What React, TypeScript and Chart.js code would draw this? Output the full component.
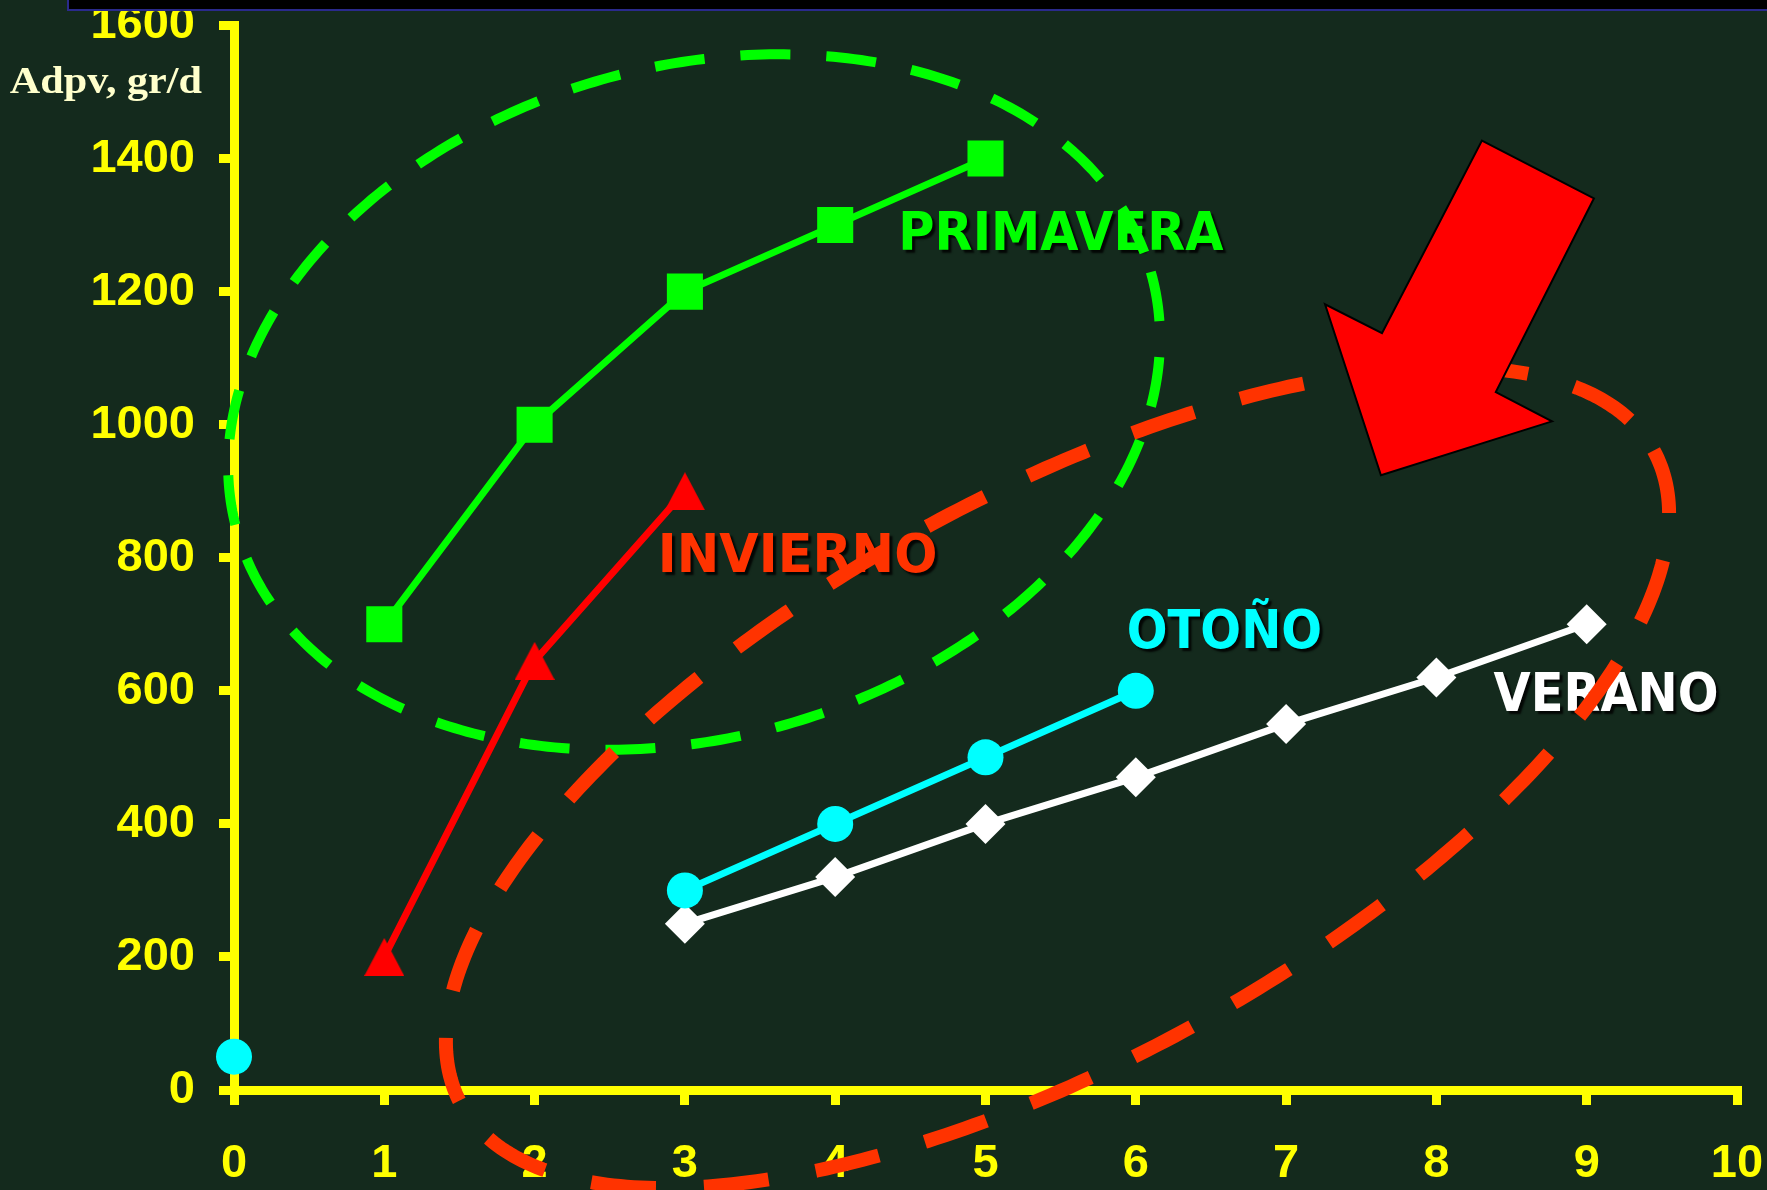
import React, { useEffect, useRef } from "react";
import { Chart, registerables } from "chart.js";

Chart.register(...registerables);

// ---------- data ----------
const X_MIN = 0;
const X_MAX = 10;
const Y_MIN = 0;
const Y_MAX = 1600;
const Y_STEP = 200;

const PRIMAVERA_X = [1, 2, 3, 4, 5];
const PRIMAVERA_Y = [700, 1000, 1200, 1300, 1400];

const INVIERNO_X = [1, 2, 3];
const INVIERNO_Y = [200, 645, 900];

const OTONO_X = [0, 1, 2, 3, 4, 5, 6];
const OTONO_Y: (number | null)[] = [50, null, null, 300, 400, 500, 600];

const VERANO_X = [3, 4, 5, 6, 7, 8, 9];
const VERANO_Y = [250, 320, 400, 470, 550, 620, 700];

const SERIES_NAMES = ["PRIMAVERA", "INVIERNO", "OTOÑO", "VERANO"];
const Y_TITLE = "Adpv, gr/d";

// ---------- annotations (in data units) ----------
const LABEL_ANCHORS = [
  { x: 4.42, y: 1262 },
  { x: 2.82, y: 779 },
  { x: 5.94, y: 664 },
  { x: 8.38, y: 570 },
];
const LABEL_STRETCH_X = [1.03, 1.06, 1.0, 1.0];
const Y_TITLE_VALUE = 1498;

// ellipse = center + u*cos(t) + v*sin(t)
const GREEN_ELLIPSE = { cx: 3.061, cy: 1034, ux: 3.039, uy: 195.5, vx: 0.612, vy: -484.8 };
const RED_ELLIPSE = { cx: 5.479, cy: 469.5, ux: 3.967, uy: 491.6, vx: 0.906, vy: -372.7 };

const ARROW_X = [8.303, 9.048, 8.395, 8.769, 7.631, 7.259, 7.638];
const ARROW_Y = [1427, 1340, 1049, 1005, 924, 1181, 1137.5];

// ---------- styles ----------
const BG = "#142a1d";
const YELLOW = "#ffff00";
const C_GREEN = "#00ff00";
const C_RED = "#ff0000";
const C_CYAN = "#00ffff";
const C_WHITE = "#ffffff";
const LABEL_COLORS = [C_GREEN, "#ff3300", C_CYAN, C_WHITE];

const toPoints = (xs: number[], ys: (number | null)[]) =>
  xs.map((x, i) => ({ x, y: ys[i] }));

function makeTriangle(color: string) {
  const c = document.createElement("canvas");
  c.width = 40;
  c.height = 38;
  const g = c.getContext("2d")!;
  g.fillStyle = color;
  g.beginPath();
  g.moveTo(20, 0);
  g.lineTo(40, 38);
  g.lineTo(0, 38);
  g.closePath();
  g.fill();
  return c;
}

const annotationPlugin = {
  id: "slideAnnotations",
  afterDraw(chart: any) {
    const { ctx, chartArea } = chart;
    const xs = chart.scales.x;
    const ys = chart.scales.y;
    const px = (v: number) => xs.getPixelForValue(v);
    const py = (v: number) => ys.getPixelForValue(v);

    // y axis title (horizontal, serif)
    ctx.save();
    ctx.font = 'bold 37px "Liberation Serif", "Times New Roman", serif';
    ctx.fillStyle = "#ffffcc";
    ctx.textAlign = "right";
    ctx.textBaseline = "alphabetic";
    ctx.translate(chartArea.left - 32, py(Y_TITLE_VALUE));
    ctx.scale(1.14, 1);
    ctx.fillText(Y_TITLE, 0, 0);
    ctx.restore();

    // series labels
    SERIES_NAMES.forEach((name, i) => {
      ctx.save();
      ctx.font = 'bold 48px "DejaVu Sans", Verdana, sans-serif';
      ctx.textAlign = "left";
      ctx.textBaseline = "alphabetic";
      ctx.shadowColor = "rgba(0,0,0,0.85)";
      ctx.shadowOffsetX = 3;
      ctx.shadowOffsetY = 3;
      ctx.shadowBlur = 2;
      ctx.fillStyle = LABEL_COLORS[i];
      ctx.translate(px(LABEL_ANCHORS[i].x), py(LABEL_ANCHORS[i].y));
      ctx.scale(LABEL_STRETCH_X[i], 1.1);
      ctx.fillText(name, 0, 0);
      ctx.restore();
    });

    // dashed ellipses
    const drawEllipse = (e: any, color: string, width: number, dash: number[]) => {
      ctx.save();
      ctx.strokeStyle = color;
      ctx.lineWidth = width;
      ctx.setLineDash(dash);
      ctx.lineCap = "butt";
      ctx.beginPath();
      const N = 400;
      for (let k = 0; k <= N; k++) {
        const t = (k / N) * Math.PI * 2;
        const dx = e.cx + e.ux * Math.cos(t) + e.vx * Math.sin(t);
        const dy = e.cy + e.uy * Math.cos(t) + e.vy * Math.sin(t);
        if (k === 0) ctx.moveTo(px(dx), py(dy));
        else ctx.lineTo(px(dx), py(dy));
      }
      ctx.stroke();
      ctx.restore();
    };
    drawEllipse(GREEN_ELLIPSE, C_GREEN, 10, [50, 36]);
    drawEllipse(RED_ELLIPSE, "#ff3300", 14, [65, 48]);

    // big arrow
    ctx.save();
    ctx.beginPath();
    ARROW_X.forEach((ax, i) => {
      if (i === 0) ctx.moveTo(px(ax), py(ARROW_Y[i]));
      else ctx.lineTo(px(ax), py(ARROW_Y[i]));
    });
    ctx.closePath();
    ctx.fillStyle = C_RED;
    ctx.fill();
    ctx.lineWidth = 2;
    ctx.strokeStyle = "#000000";
    ctx.lineJoin = "miter";
    ctx.stroke();
    ctx.restore();
  },
};

const zeroPadding = (s: any) => {
  s.paddingLeft = 0;
  s.paddingRight = 0;
  s.paddingTop = 0;
  s.paddingBottom = 0;
};

export default function App() {
  const ref = useRef<HTMLCanvasElement | null>(null);

  useEffect(() => {
    document.body.style.margin = "0";
    document.body.style.background = BG;
    const canvas = ref.current;
    if (!canvas) return;

    const tickFont = {
      family: '"Liberation Sans", Arial, sans-serif',
      weight: "bold" as const,
      size: 47,
      lineHeight: 1,
    };

    const common = {
      borderWidth: 7,
      clip: false as const,
      tension: 0,
      spanGaps: false,
      fill: false,
      pointBorderWidth: 0,
    };

    const chart = new Chart(canvas, {
      type: "line",
      data: {
        datasets: [
          {
            ...common,
            label: SERIES_NAMES[0],
            data: toPoints(PRIMAVERA_X, PRIMAVERA_Y) as any,
            borderColor: C_GREEN,
            backgroundColor: C_GREEN,
            pointBackgroundColor: C_GREEN,
            pointStyle: "rect",
            pointRadius: 25.5,
          },
          {
            ...common,
            label: SERIES_NAMES[1],
            data: toPoints(INVIERNO_X, INVIERNO_Y) as any,
            borderColor: C_RED,
            backgroundColor: C_RED,
            pointBackgroundColor: C_RED,
            pointStyle: makeTriangle(C_RED) as any,
            pointRadius: 20,
          },
          {
            ...common,
            label: SERIES_NAMES[2],
            data: toPoints(OTONO_X, OTONO_Y) as any,
            borderColor: C_CYAN,
            backgroundColor: C_CYAN,
            pointBackgroundColor: C_CYAN,
            pointStyle: "circle",
            pointRadius: 18,
          },
          {
            ...common,
            label: SERIES_NAMES[3],
            data: toPoints(VERANO_X, VERANO_Y) as any,
            borderColor: C_WHITE,
            backgroundColor: C_WHITE,
            pointBackgroundColor: C_WHITE,
            pointStyle: "rectRot",
            pointRadius: 20,
          },
        ],
      },
      options: {
        responsive: false,
        animation: false,
        events: [],
        layout: { padding: { top: 25, right: 30, left: 0, bottom: 0 } },
        plugins: {
          legend: { display: false },
          tooltip: { enabled: false },
          title: { display: false },
        },
        scales: {
          x: {
            type: "linear",
            min: X_MIN,
            max: X_MAX,
            afterFit: (s: any) => {
              s.height = 100;
              zeroPadding(s);
            },
            ticks: {
              stepSize: 1,
              color: YELLOW,
              font: tickFont,
              padding: 36,
              maxRotation: 0,
              autoSkip: false,
              callback: (v: any) => String(v),
            },
            grid: {
              drawOnChartArea: false,
              color: YELLOW,
              tickColor: YELLOW,
              tickLength: 15,
              tickWidth: 9,
              lineWidth: 9,
            },
            border: { color: YELLOW, width: 9 },
          },
          y: {
            type: "linear",
            min: Y_MIN,
            max: Y_MAX,
            afterFit: (s: any) => {
              s.width = 234;
              zeroPadding(s);
            },
            ticks: {
              stepSize: Y_STEP,
              color: YELLOW,
              font: tickFont,
              padding: 24,
              autoSkip: false,
              callback: (v: any) => String(v),
            },
            grid: {
              drawOnChartArea: false,
              color: YELLOW,
              tickColor: YELLOW,
              tickLength: 15,
              tickWidth: 9,
              lineWidth: 9,
            },
            border: { color: YELLOW, width: 9 },
          },
        },
      },
      plugins: [annotationPlugin],
    });

    return () => chart.destroy();
  }, []);

  return (
    <div
      style={{
        position: "relative",
        width: 1767,
        height: 1190,
        background: BG,
        overflow: "hidden",
      }}
    >
      <canvas ref={ref} width={1767} height={1190} style={{ display: "block" }} />
      <div
        style={{
          position: "absolute",
          left: 67,
          top: -30,
          width: 1800,
          height: 37,
          background: "#000000",
          border: "2px solid #2a2a8c",
        }}
      />
    </div>
  );
}
